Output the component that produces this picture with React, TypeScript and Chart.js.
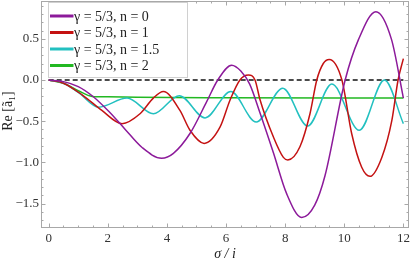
import React, { useEffect, useRef } from "react";
import { Chart, registerables } from "chart.js";

Chart.register(...registerables);

// ---- data ----
const sigmaN0 = [0, 0.5, 1.0, 1.5, 2.03, 2.59, 3.16, 3.82, 4.22, 4.78, 5.35, 5.72, 6.19, 6.5, 6.8, 7.15, 7.6, 8.05, 8.56, 9.0, 9.35, 10.03, 10.48, 11.07, 11.6, 12.0];
const reN0 = [0, -0.02, -0.08, -0.2, -0.38, -0.6, -0.82, -0.95, -0.89, -0.65, -0.26, 0, 0.18, 0.11, -0.05, -0.4, -0.88, -1.38, -1.67, -1.52, -1.16, 0, 0.49, 0.83, 0.49, -0.22];

const sigmaN1 = [0, 0.5, 1.13, 1.8, 2.48, 3.09, 3.54, 3.88, 4.44, 4.78, 5.26, 5.8, 6.14, 6.47, 6.76, 6.98, 7.15, 7.6, 7.94, 8.09, 8.5, 8.84, 9.07, 9.29, 9.49, 9.92, 10.25, 10.59, 10.87, 11.27, 11.61, 11.82, 12.0];
const reN1 = [0, -0.04, -0.18, -0.37, -0.53, -0.41, -0.22, -0.14, -0.37, -0.61, -0.77, -0.57, -0.24, 0, 0.06, 0, -0.24, -0.69, -0.94, -0.97, -0.81, -0.41, 0, 0.2, 0.25, 0, -0.65, -1.06, -1.17, -0.94, -0.49, 0, 0.26];

const sigmaN15 = [0, 0.5, 1.0, 1.69, 2.65, 3.54, 4.42, 5.29, 6.16, 7.02, 7.92, 8.76, 9.58, 10.51, 11.36, 12.0];
const reN15 = [0, -0.04, -0.15, -0.33, -0.22, -0.41, -0.19, -0.46, -0.14, -0.51, -0.1, -0.56, -0.05, -0.61, 0.0, -0.53];

const sigmaN2 = [0, 0.5, 1.0, 1.47, 2.0, 3.0, 6.0, 12.0];
const reN2 = [0, -0.04, -0.13, -0.2, -0.205, -0.21, -0.215, -0.22];

const sigmaZero = [0, 12];
const reZero = [0, 0];

const seriesLabels = ["γ = 5/3, n = 0", "γ = 5/3, n = 1", "γ = 5/3, n = 1.5", "γ = 5/3, n = 2"];
const seriesColors = ["#8c1a9a", "#c41212", "#22c0c0", "#22b822"];

const xTickValues = [0, 2, 4, 6, 8, 10, 12];
const xTickLabels = ["0", "2", "4", "6", "8", "10", "12"];
const yTickValues = [0.5, 0, -0.5, -1, -1.5];
const yTickLabels = ["0.5", "0.0", "−0.5", "−1.0", "−1.5"];
const xMinorStep = 0.5;
const yMinorStep = 0.1;

const xTitle = "σ / i";
const yTitle = "Re [ã₁]";

const SERIF = '"Liberation Serif", "DejaVu Serif", serif';

const pairs = (xs: number[], ys: number[]) => xs.map((x, i) => ({ x, y: ys[i] }));

const zeroPad = (s: any) => {
  s.paddingTop = 0;
  s.paddingBottom = 0;
  s.paddingLeft = 0;
  s.paddingRight = 0;
};

const framePlugin = {
  id: "frameDecor",
  afterDraw(chart: any) {
    const ctx = chart.ctx;
    const { left, right, top, bottom } = chart.chartArea;
    const xs = chart.scales.x;
    const ys = chart.scales.y;
    ctx.save();
    // frame
    ctx.strokeStyle = "#a8a8a8";
    ctx.lineWidth = 1;
    ctx.strokeRect(left + 0.5, top + 0.5, right - left - 1, bottom - top - 1);
    // ticks
    const drawX = (v: number, len: number) => {
      const p = Math.round(xs.getPixelForValue(v)) + 0.5;
      if (p < left || p > right) return;
      ctx.beginPath();
      ctx.moveTo(p, bottom);
      ctx.lineTo(p, bottom - len);
      ctx.moveTo(p, top);
      ctx.lineTo(p, top + len);
      ctx.stroke();
    };
    const drawY = (v: number, len: number) => {
      const p = Math.round(ys.getPixelForValue(v)) + 0.5;
      if (p < top || p > bottom) return;
      ctx.beginPath();
      ctx.moveTo(left, p);
      ctx.lineTo(left + len, p);
      ctx.moveTo(right, p);
      ctx.lineTo(right - len, p);
      ctx.stroke();
    };
    for (let k = Math.ceil(xs.min / xMinorStep); k * xMinorStep <= xs.max; k++) {
      const v = k * xMinorStep;
      const major = xTickValues.some((t) => Math.abs(t - v) < 1e-6);
      drawX(v, major ? 4.5 : 2.5);
    }
    for (let k = Math.ceil(ys.min / yMinorStep); k * yMinorStep <= ys.max; k++) {
      const v = k * yMinorStep;
      const major = yTickValues.some((t) => Math.abs(t - v) < 1e-6);
      drawY(v, major ? 4.5 : 2.5);
    }
    // legend
    const lx = left + 7.5;
    const ly = top + 1.5;
    const lw = 139;
    const lh = 75;
    ctx.fillStyle = "#ffffff";
    ctx.fillRect(lx, ly, lw, lh);
    ctx.strokeStyle = "#d0d0d0";
    ctx.strokeRect(lx, ly, lw, lh);
    ctx.font = `14px ${SERIF}`;
    ctx.textBaseline = "middle";
    ctx.textAlign = "left";
    seriesLabels.forEach((lab, i) => {
      const yy = ly + 13.5 + i * 16.5;
      ctx.strokeStyle = seriesColors[i];
      ctx.lineWidth = 3;
      ctx.beginPath();
      ctx.moveTo(lx + 1.5, yy);
      ctx.lineTo(lx + 25, yy);
      ctx.stroke();
      ctx.fillStyle = "#222";
      ctx.fillText(lab, lx + 25.5, yy + 1);
    });
    // axis titles
    ctx.fillStyle = "#222";
    ctx.font = `italic 14px ${SERIF}`;
    ctx.textAlign = "center";
    ctx.textBaseline = "middle";
    ctx.fillText(xTitle, (left + right) / 2, 254);
    ctx.save();
    ctx.translate(8, 111);
    ctx.rotate(-Math.PI / 2);
    ctx.font = `14px ${SERIF}`;
    ctx.fillText(yTitle, 0, 0);
    ctx.restore();
    ctx.restore();
  },
};

export default function App() {
  const ref = useRef<HTMLCanvasElement | null>(null);
  useEffect(() => {
    document.body.style.margin = "0";
    const canvas = ref.current!;
    const lineDs = (label: string, xs: number[], ys: number[], color: string) => ({
      label,
      data: pairs(xs, ys),
      borderColor: color,
      backgroundColor: color,
      borderWidth: 1.5,
      pointRadius: 0,
      cubicInterpolationMode: "monotone" as const,
      fill: false,
    });
    const chart = new Chart(canvas, {
      type: "line",
      data: {
        datasets: [
          lineDs(seriesLabels[0], sigmaN0, reN0, seriesColors[0]),
          lineDs(seriesLabels[1], sigmaN1, reN1, seriesColors[1]),
          lineDs(seriesLabels[2], sigmaN15, reN15, seriesColors[2]),
          lineDs(seriesLabels[3], sigmaN2, reN2, seriesColors[3]),
          {
            label: "zero",
            data: pairs(sigmaZero, reZero),
            borderColor: "#111",
            borderWidth: 1.4,
            borderDash: [5, 3],
            pointRadius: 0,
            fill: false,
          },
        ],
      },
      options: {
        responsive: false,
        animation: false,
        layout: { padding: { top: 1, right: 2, left: 0, bottom: 0 } },
        plugins: { legend: { display: false }, tooltip: { enabled: false } },
        scales: {
          x: {
            type: "linear",
            min: -0.26,
            max: 12.19,
            grid: { display: false, drawTicks: false },
            border: { display: false },
            afterBuildTicks: (s: any) => {
              s.ticks = xTickValues.map((v) => ({ value: v }));
            },
            afterFit: (s: any) => {
              s.height = 33;
              zeroPad(s);
            },
            ticks: {
              autoSkip: false,
              maxRotation: 0,
              padding: 3,
              color: "#333",
              font: { family: SERIF, size: 13 },
              callback: (v: any) => {
                const i = xTickValues.indexOf(Number(v));
                return i >= 0 ? xTickLabels[i] : "";
              },
            },
          },
          y: {
            type: "linear",
            min: -1.797,
            max: 0.959,
            grid: { display: false, drawTicks: false },
            border: { display: false },
            afterBuildTicks: (s: any) => {
              s.ticks = yTickValues.map((v) => ({ value: v }));
            },
            afterFit: (s: any) => {
              s.width = 41;
              zeroPad(s);
            },
            ticks: {
              autoSkip: false,
              padding: 2,
              color: "#333",
              font: { family: SERIF, size: 13 },
              callback: (v: any) => {
                const i = yTickValues.findIndex((t) => Math.abs(t - Number(v)) < 1e-9);
                return i >= 0 ? yTickLabels[i] : "";
              },
            },
          },
        },
      },
      plugins: [framePlugin],
    });
    return () => chart.destroy();
  }, []);
  return (
    <div style={{ position: "fixed", left: 0, top: 0, width: 411, height: 261, background: "#fff" }}>
      <canvas ref={ref} width={411} height={261} style={{ width: 411, height: 261 }} />
    </div>
  );
}
